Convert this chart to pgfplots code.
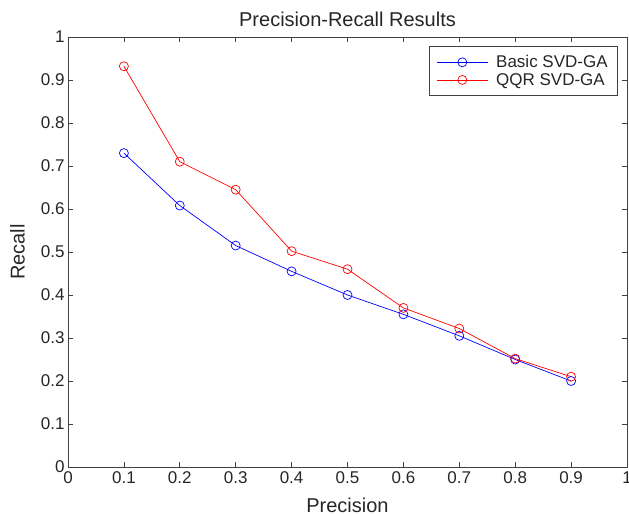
\documentclass[border=0pt]{standalone}
\usepackage{fontspec}
\setmainfont{Liberation Sans}
\usepackage{pgfplots}
\pgfplotsset{compat=1.18}
\usetikzlibrary{calc}
\begin{document}
\begin{tikzpicture}[x=1bp,y=1bp]
\begin{axis}[
  name=ax,
  scale only axis,
  width=559bp, height=430bp,
  xmin=0, xmax=1, ymin=0, ymax=1,
  xtick={0,0.1,...,1.01}, ytick={0,0.1,...,1.01},
  xticklabels={0,0.1,0.2,0.3,0.4,0.5,0.6,0.7,0.8,0.9,1},
  yticklabels={0,0.1,0.2,0.3,0.4,0.5,0.6,0.7,0.8,0.9,1},
  tick align=inside,
  major tick length=5bp,
  xtick pos=both, ytick pos=both,
  axis line style={draw=black!75, line width=0.8pt},
  every tick/.style={black!75, line width=0.8pt},
  tick label style={font=\fontsize{17bp}{19bp}\selectfont, text=black!85},
  xticklabel style={yshift=-1bp},
  /pgf/number format/assume math mode=true,
  title={Precision-Recall Results},
  title style={font=\fontsize{20bp}{22bp}\selectfont, at={(axis description cs:0.5,1)}, anchor=base, yshift=10bp, text=black!85},
  every axis title shift=0pt,
  xlabel={Precision}, ylabel={Recall},
  label style={font=\fontsize{20bp}{22bp}\selectfont, text=black!85},
  xlabel style={at={(axis description cs:0.5,-0.1047)}, anchor=base},
  ylabel style={at={(axis description cs:-0.0775,0.5)}, anchor=base},
  legend style={at={(0.984,0.979)}, anchor=north east, draw=black!75, line width=0.8pt,
    font=\fontsize{17bp}{19bp}\selectfont, inner xsep=7bp, inner ysep=7bp,
    nodes={inner xsep=3bp, inner ysep=2bp},
    column sep=5bp, row sep=0bp, text=black!85},
  legend cell align=left,
  legend image code/.code={\draw[#1] (0bp,0bp) -- (51bp,0bp); \draw[#1, mark repeat=1] plot coordinates {(25.5bp,0bp)};},
]
\addplot[blue, line width=0.7pt, mark=o, mark size=4.5bp, mark options={line width=0.7pt}] coordinates {
(0.1,0.73) (0.2,0.608) (0.3,0.515) (0.4,0.455) (0.5,0.40) (0.6,0.355) (0.7,0.305) (0.8,0.25) (0.9,0.20)};
\addlegendentry{Basic SVD-GA}
\addplot[red, line width=0.7pt, mark=o, mark size=4.5bp, mark options={line width=0.7pt}] coordinates {
(0.1,0.932) (0.2,0.71) (0.3,0.645) (0.4,0.502) (0.5,0.46) (0.6,0.37) (0.7,0.322) (0.8,0.252) (0.9,0.21)};
\addlegendentry{QQR SVD-GA}
\end{axis}
\pgfresetboundingbox
\useasboundingbox ($(ax.south west)+(-68bp,-47bp)$) rectangle ($(ax.north east)+(2bp,37bp)$);
\end{tikzpicture}
\end{document}
